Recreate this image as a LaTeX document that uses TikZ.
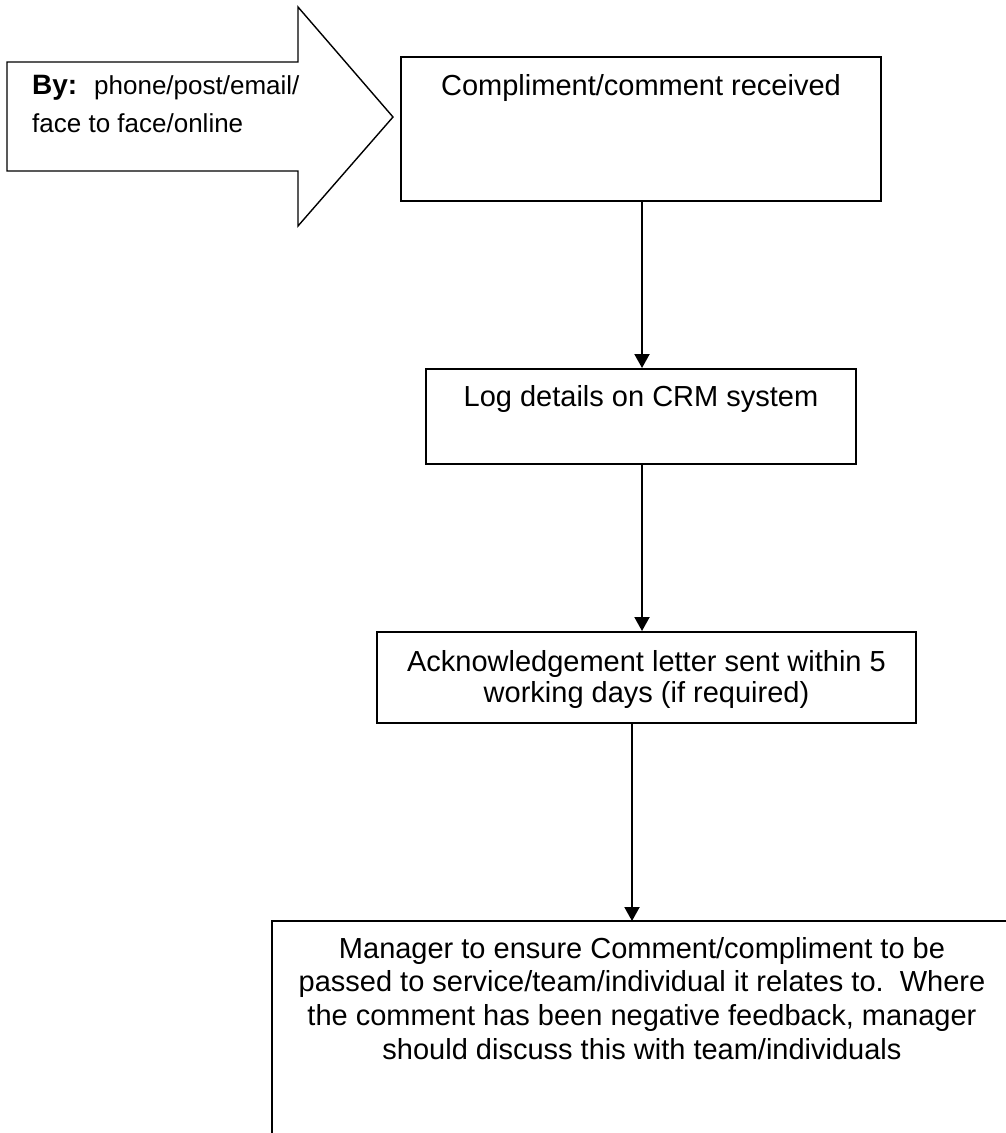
\documentclass[tikz,border=0pt]{standalone}
\usepackage{fontspec}
\setmainfont{Liberation Sans}
\usetikzlibrary{arrows.meta}
\tikzset{
  box/.style={draw=black, line width=2pt, fill=white, inner sep=0pt, rectangle},
  conn/.style={draw=black, line width=2pt, -{Triangle[width=15pt,length=14pt]}},
  txt/.style={inner sep=0pt, anchor=base, font=\fontsize{29}{34}\selectfont},
  arrtxt/.style={inner sep=0pt, anchor=base west, font=\fontsize{26}{30}\selectfont},
  bigarrow/.style={draw=black, line width=1.4pt, fill=white, line join=miter},
}
\begin{document}
\begin{tikzpicture}[x=1pt, y=-1pt]
\clip (0,0) rectangle (1006,1133);
\fill[white] (0,0) rectangle (1006,1133);

% input arrow
\draw[bigarrow] (7,62) -- (298,62) -- (298,7) -- (393,117) -- (298,226) -- (298,171) -- (7,171) -- cycle;
\node[arrtxt, font=\fontsize{28}{30}\selectfont\bfseries] (by) at (32,94) {By:};
\node[arrtxt] (by1) at (94,94) {phone/post/email/};
\node[arrtxt] (by2) at (32,132) {face to face/online};

% boxes
\node[box, minimum width=480pt, minimum height=144pt] (b1) at (641,129) {};
\node[txt] (b1t) at (641,95) {Compliment/comment received};

\node[box, minimum width=430pt, minimum height=95pt] (b2) at (641,416.5) {};
\node[txt] (b2t) at (641,406) {Log details on CRM system};

\node[box, minimum width=539pt, minimum height=91pt] (b3) at (646.5,677.5) {};
\node[txt] (b3ta) at (646.5,671) {Acknowledgement letter sent within 5};
\node[txt] (b3tb) at (646.5,702) {working days (if required)};

\coordinate (b4tl) at (272,921);
\coordinate (b4tr) at (1030,921);
\coordinate (b4bl) at (272,1160);
\draw[line width=2pt] (b4tr) -- (b4tl) -- (b4bl);
\node[txt] (b4ta) at (642,958) {Manager to ensure Comment/compliment to be};
\node[txt] (b4tb) at (642,991) {passed to service/team/individual it relates to.\ \ Where};
\node[txt] (b4tc) at (642,1025) {the comment has been negative feedback, manager};
\node[txt] (b4td) at (642,1059) {should discuss this with team/individuals};

% connectors
\coordinate (xa) at (642,0);
\coordinate (xb) at (632,0);
\draw[conn] (b1.south -| xa) -- (b2.north -| xa);
\draw[conn] (b2.south -| xa) -- (b3.north -| xa);
\draw[conn] (b3.south -| xb) -- (b4tl -| xb);
\end{tikzpicture}
\end{document}
